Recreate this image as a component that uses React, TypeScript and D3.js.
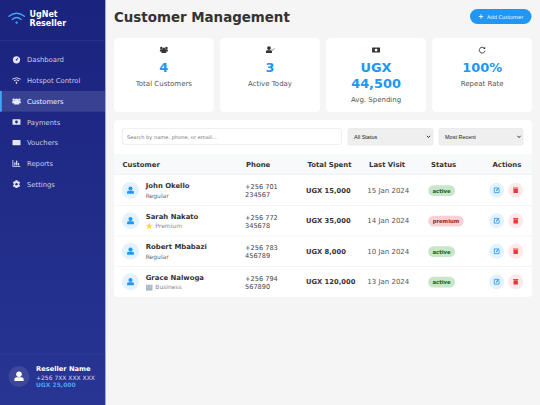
import * as d3 from "d3";

const navItems = ["Dashboard", "Hotspot Control", "Customers", "Payments", "Vouchers", "Reports", "Settings"];
const activeNav = "Customers";
const statLabels = ["Total Customers", "Active Today", "Avg. Spending", "Repeat Rate"];
const statValues = [["4"], ["3"], ["UGX", "44,500"], ["100%"]];
const columns = ["Customer", "Phone", "Total Spent", "Last Visit", "Status", "Actions"];
const names = ["John Okello", "Sarah Nakato", "Robert Mbabazi", "Grace Nalwoga"];
const tiers = ["Regular", "Premium", "Regular", "Business"];
const phones = [["+256 701", "234567"], ["+256 772", "345678"], ["+256 783", "456789"], ["+256 794", "567890"]];
const spent = [15000, 35000, 8000, 120000];
const visits = ["15 Jan 2024", "14 Jan 2024", "10 Jan 2024", "13 Jan 2024"];
const statuses = ["active", "premium", "active", "active"];

const FONT = "'DejaVu Sans', sans-serif";
const BLUE = "#2196f3";

const navY = d3.scaleBand<string>().domain(navItems).range([49.5, 194.5]);
const cardX = d3.scaleBand<string>().domain(statLabels).range([114, 532]).paddingInner(0.06);
const rowY = d3.scaleBand<string>().domain(names).range([175, 297]);
const colX = d3.scaleOrdinal<string, number>().domain(columns).range([122.5, 246, 307.5, 369, 431, 492.5]);
const money = d3.format(",");

const UserIcon = ({ x, y, s, fill }: { x: number; y: number; s: number; fill: string }) => (
  <g transform={`translate(${x},${y}) scale(${s})`} fill={fill}>
    <circle cx={0} cy={-2} r={2.4} />
    <path d="M-4,4 V2.2 Q-4,0.6 -2.2,0.6 H2.2 Q4,0.6 4,2.2 V4 Z" />
  </g>
);

const NavIcon = ({ name, x, y }: { name: string; x: number; y: number }) => {
  const c = "#e4e6f4";
  let glyph = null;
  if (name === "Dashboard") {
    glyph = (
      <>
        <circle r={3.6} fill={c} />
        <path d="M0,0 L1.6,-2.2" stroke="#1f2a85" strokeWidth={0.9} />
        <circle r={0.8} fill="#1f2a85" />
      </>
    );
  } else if (name === "Hotspot Control") {
    glyph = (
      <g fill="none" stroke={c} strokeWidth={0.9}>
        <path d="M-4.2,-1.4 Q0,-4.2 4.2,-1.4" />
        <path d="M-2.6,0.2 Q0,-1.7 2.6,0.2" />
        <circle cy={2.2} r={0.6} fill={c} />
      </g>
    );
  } else if (name === "Customers") {
    glyph = (
      <g fill={c}>
        <circle cx={-2.8} cy={-1.6} r={1.3} />
        <circle cx={2.8} cy={-1.6} r={1.3} />
        <circle cy={-1} r={1.7} />
        <path d="M-4.4,2 V0.9 Q-4.4,-0.2 -3,-0.2 H3 Q4.4,-0.2 4.4,0.9 V2 H2.6 V3.3 H-2.6 V2 Z" />
      </g>
    );
  } else if (name === "Payments") {
    glyph = (
      <>
        <rect x={-4} y={-2.8} width={8} height={5.6} rx={0.6} fill={c} />
        <circle r={1.4} fill="#1f2a85" />
      </>
    );
  } else if (name === "Vouchers") {
    glyph = <rect x={-4} y={-2.6} width={8} height={5.2} rx={0.6} fill={c} />;
  } else if (name === "Reports") {
    glyph = (
      <g fill={c}>
        <path d="M-4,-3.4 H-3.2 V2.6 H4 V3.4 H-4 Z" />
        <rect x={-2.2} y={-1} width={1.2} height={3} />
        <rect x={-0.4} y={-2.8} width={1.2} height={4.8} />
        <rect x={1.4} y={-0.4} width={1.2} height={2.4} />
      </g>
    );
  } else {
    glyph = (
      <>
        <path d="M-1,-3.8 H1 L1.3,-2.6 L2.6,-3 L3.6,-1.3 L2.7,-0.5 V0.5 L3.6,1.3 L2.6,3 L1.3,2.6 L1,3.8 H-1 L-1.3,2.6 L-2.6,3 L-3.6,1.3 L-2.7,0.5 V-0.5 L-3.6,-1.3 L-2.6,-3 L-1.3,-2.6 Z" fill={c} />
        <circle r={1.2} fill="#1f2a85" />
      </>
    );
  }
  return <g transform={`translate(${x},${y})`}>{glyph}</g>;
};

const StatIcon = ({ i, x, y }: { i: number; x: number; y: number }) => {
  const c = "#333";
  let glyph = null;
  if (i === 0) {
    glyph = (
      <g fill={c}>
        <circle cx={-2.6} cy={-2} r={1.2} />
        <circle cx={2.6} cy={-2} r={1.2} />
        <circle cy={-1} r={1.5} />
        <path d="M-4,1.4 V0.4 Q-4,-0.7 -2.8,-0.7 H2.8 Q4,-0.7 4,0.4 V1.4 H2.4 V3 H-2.4 V1.4 Z" />
      </g>
    );
  } else if (i === 1) {
    glyph = (
      <g fill={c}>
        <circle cx={-1} cy={-1.9} r={1.9} />
        <path d="M-4,3 V1.6 Q-4,0.3 -2.6,0.3 H0.6 Q2,0.3 2,1.6 V3 Z" />
        <path d="M1.6,-0.6 L2.6,0.3 L4.4,-1.6" fill="none" stroke={c} strokeWidth={0.6} />
      </g>
    );
  } else if (i === 2) {
    glyph = (
      <>
        <rect x={-4} y={-2.4} width={8} height={5} rx={0.5} fill={c} />
        <circle r={1.4} cy={0.1} fill="#fff" />
      </>
    );
  } else {
    glyph = (
      <g fill="none" stroke={c} strokeWidth={0.9}>
        <path d="M2.4,-1.6 A2.9,2.9 0 1 0 2.9,0.8" />
        <path d="M3,-3.2 V-1 H0.9 Z" fill={c} stroke="none" />
      </g>
    );
  }
  return <g transform={`translate(${x},${y})`}>{glyph}</g>;
};

const Chevron = ({ x, y }: { x: number; y: number }) => (
  <path d={`M${x - 1.6},${y - 1} L${x},${y + 0.8} L${x + 1.6},${y - 1}`} fill="none" stroke="#222" strokeWidth={0.9} />
);

const badgeStyle: Record<string, { bg: string; fg: string; w: number }> = {
  active: { bg: "#c8e6c9", fg: "#1b5e20", w: 26.8 },
  premium: { bg: "#f8d1d6", fg: "#9a1b2c", w: 35.5 },
};

export default function App() {
  return (
    <svg width={540} height={405} viewBox="0 0 540 405" style={{ position: "absolute", left: 0, top: 0 }} fontFamily={FONT}>
      <defs>
        <linearGradient id="side" x1="0" y1="0" x2="0" y2="1">
          <stop offset="0" stopColor="#1a237e" />
          <stop offset="1" stopColor="#283593" />
        </linearGradient>
      </defs>
      <rect width={540} height={405} fill="#f5f5f5" />

      {/* sidebar */}
      <rect width={105} height={405} fill="url(#side)" />
      <rect x={105} width={0.8} height={405} fill="#8f96d8" />
      <g fill="none" stroke="#42a5f5" strokeWidth={1.4} strokeLinecap="round">
        <path d="M9,16.2 Q16.7,10.2 24.4,16.2" />
        <path d="M12.2,19.4 Q16.7,15.4 21.2,19.4" />
      </g>
      <circle cx={16.7} cy={22.6} r={1.2} fill="#42a5f5" />
      <text x={29.5} y={16.8} fontSize={8} fontWeight={700} fill="#fff">UgNet</text>
      <text x={29.5} y={26.4} fontSize={8} fontWeight={700} fill="#fff">Reseller</text>
      <line x1={0} x2={105} y1={40.5} y2={40.5} stroke="#fff" strokeOpacity={0.1} strokeWidth={0.6} />

      {navItems.map((d) => {
        const y = navY(d) ?? 0;
        const mid = y + navY.bandwidth() / 2;
        const on = d === activeNav;
        return (
          <g key={d}>
            {on && <rect x={0} y={y} width={105} height={navY.bandwidth()} fill="#fff" fillOpacity={0.12} />}
            {on && <rect x={0} y={y} width={1.8} height={navY.bandwidth()} fill="#42a5f5" />}
            <NavIcon name={d} x={16.5} y={mid} />
            <text x={27} y={mid + 2.5} fontSize={6.8} fill={on ? "#f2f3fb" : "#c9cdea"}>{d}</text>
          </g>
        );
      })}

      <line x1={0} x2={105} y1={354.5} y2={354.5} stroke="#fff" strokeOpacity={0.06} strokeWidth={0.6} />
      <circle cx={19} cy={376.5} r={10.5} fill="#fff" fillOpacity={0.1} />
      <UserIcon x={19} y={376.5} s={1.15} fill="#fff" />
      <text x={36} y={370.5} fontSize={6.7} fontWeight={700} fill="#fff">Reseller Name</text>
      <text x={36} y={380} fontSize={6} fill="#d5d8ef">+256 7XX XXX XXX</text>
      <text x={36} y={387} fontSize={6} fontWeight={700} fill="#42a5f5">UGX 25,000</text>

      {/* header */}
      <text x={114} y={22} fontSize={13.4} fontWeight={700} fill="#333">Customer Management</text>
      <rect x={470} y={9} width={61.5} height={15} rx={7.5} fill={BLUE} />
      <path d="M478.8,16.5 h4.4 M481,14.3 v4.4" stroke="#fff" strokeWidth={0.9} />
      <text x={487} y={18.8} fontSize={5.1} fill="#fff">Add Customer</text>

      {/* stat cards */}
      {statLabels.map((d, i) => {
        const x = cardX(d) ?? 0;
        const w = cardX.bandwidth();
        const cx = x + w / 2;
        const lines = statValues[i];
        return (
          <g key={d}>
            <rect x={x} y={38} width={w} height={74} rx={4} fill="#fff" />
            <StatIcon i={i} x={cx} y={50} />
            {lines.map((t, j) => (
              <text key={t} x={cx} y={72 + j * 16.2} textAnchor="middle" fontSize={12.9} fontWeight={700} fill={BLUE}>{t}</text>
            ))}
            <text x={cx} y={69.5 + lines.length * 16.2} textAnchor="middle" fontSize={7} fill="#555">{d}</text>
          </g>
        );
      })}

      {/* filters */}
      <rect x={114} y={120} width={418} height={177} rx={4} fill="#fff" />
      <rect x={122.4} y={128.4} width={219} height={16} rx={2.4} fill="#fff" stroke="#e6e6e6" strokeWidth={0.7} />
      <text x={127} y={138.5} fontSize={5.1} fill="#757575">Search by name, phone, or email...</text>
      <rect x={348} y={128.5} width={85} height={16.5} rx={1.5} fill="#efefef" stroke="#e0e0e0" strokeWidth={0.5} />
      <text x={354} y={139} fontSize={5.5} fontFamily="'Liberation Sans', sans-serif" fill="#222">All Status</text>
      <Chevron x={428.5} y={136.8} />
      <rect x={439} y={128.5} width={84} height={16.5} rx={1.5} fill="#efefef" stroke="#e0e0e0" strokeWidth={0.5} />
      <text x={445} y={139} fontSize={5.5} fontFamily="'Liberation Sans', sans-serif" fill="#222">Most Recent</text>
      <Chevron x={519} y={136.8} />

      {/* table */}
      <rect x={114} y={154} width={418} height={20} fill="#f8f9fa" />
      <line x1={114} x2={532} y1={174.4} y2={174.4} stroke="#e9ecef" strokeWidth={0.8} />
      {columns.map((d) => (
        <text key={d} x={colX(d)} y={167} fontSize={6.9} fontWeight={700} fill="#333">{d}</text>
      ))}
      {names.map((d, i) => {
        const y = rowY(d) ?? 0;
        const mid = y + rowY.bandwidth() / 2;
        const badge = badgeStyle[statuses[i]];
        return (
          <g key={d}>
            {i < names.length - 1 && (
              <line x1={114} x2={532} y1={y + rowY.bandwidth()} y2={y + rowY.bandwidth()} stroke="#f0f0f0" strokeWidth={0.7} />
            )}
            <circle cx={130.5} cy={mid} r={8.5} fill="#e3f2fd" />
            <UserIcon x={130.5} y={mid} s={0.85} fill={BLUE} />
            <text x={145.7} y={mid - 2} fontSize={6.9} fontWeight={700} fill="#333">{d}</text>
            {tiers[i] === "Premium" && (
              <path transform={`translate(149.3,${mid + 5.4})`} fill="#fdd835" d="M0,-3.4 L1,-1 L3.4,-1 L1.5,0.6 L2.1,3 L0,1.7 L-2.1,3 L-1.5,0.6 L-3.4,-1 L-1,-1 Z" />
            )}
            {tiers[i] === "Business" && (
              <g transform={`translate(146,${mid + 3})`}>
                <rect width={6.5} height={5.8} fill="#a9b7c0" />
                <path d="M1.2,1.2 h1 M4.2,1.2 h1 M1.2,3 h1 M4.2,3 h1" stroke="#e3e9ec" strokeWidth={0.8} />
              </g>
            )}
            <text x={tiers[i] === "Regular" ? 145.7 : 155.3} y={mid + 7.4} fontSize={6} fill={tiers[i] === "Regular" ? "#666" : "#888"}>{tiers[i]}</text>
            {phones[i].map((t, j) => (
              <text key={t} x={245} y={mid - 1.1 + j * 8} fontSize={6.6} fill="#444">{t}</text>
            ))}
            <text x={306} y={mid + 2.3} fontSize={6.75} fontWeight={700} fill="#333">UGX {money(spent[i])}</text>
            <text x={367.3} y={mid + 2.3} fontSize={7} fill="#555">{visits[i]}</text>
            <rect x={428.2} y={mid - 5} width={badge.w} height={10.8} rx={5.4} fill={badge.bg} />
            <text x={428.2 + badge.w / 2} y={mid + 2.4} textAnchor="middle" fontSize={5.3} fontWeight={700} fill={badge.fg}>{statuses[i]}</text>
            <circle cx={496.7} cy={mid} r={7.4} fill="#e3f2fd" />
            <g transform={`translate(496.7,${mid})`} fill="none" stroke={BLUE} strokeWidth={0.8}>
              <path d="M1.2,-2.4 H-2.4 V2.4 H2.4 V-1" />
              <path d="M-0.6,0.6 L2.4,-2.6" strokeWidth={1.1} />
            </g>
            <circle cx={515.7} cy={mid} r={7.4} fill="#fde8ea" />
            <g transform={`translate(515.7,${mid})`} fill="#e53935">
              <rect x={-2.2} y={-1.4} width={4.4} height={4.2} rx={0.4} />
              <rect x={-2.6} y={-2.7} width={5.2} height={0.9} />
            </g>
          </g>
        );
      })}
    </svg>
  );
}
